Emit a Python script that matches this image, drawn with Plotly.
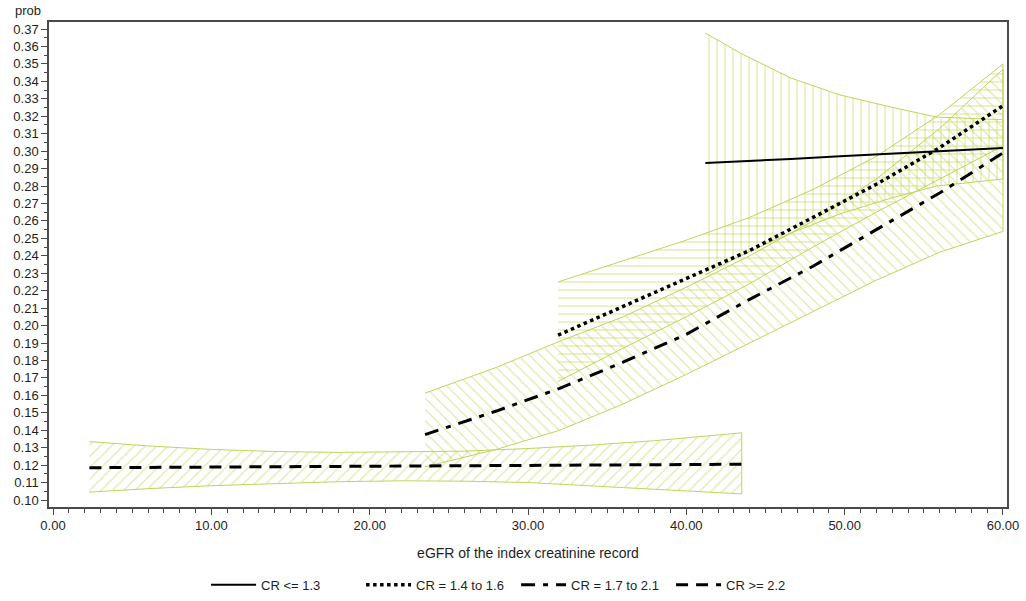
import plotly.graph_objects as go

# ---------------- data ----------------
# CR <= 1.3
x1 = [41.2, 43.4, 46.6, 49.7, 52.9, 55.8, 60.0]
y1 = [0.2932, 0.2940, 0.2955, 0.2970, 0.2985, 0.2998, 0.3018]
u1 = [0.3677, 0.3562, 0.3419, 0.3322, 0.3253, 0.3195, 0.3180]
l1 = [0.2290, 0.2400, 0.2530, 0.2640, 0.2730, 0.2800, 0.2840]

# CR = 1.4 to 1.6
x2 = [31.9, 36.0, 40.0, 44.0, 48.0, 52.0, 56.0, 60.0]
y2 = [0.1945, 0.2110, 0.2270, 0.2430, 0.2620, 0.2810, 0.3020, 0.3260]
u2 = [0.2250, 0.2370, 0.2490, 0.2620, 0.2780, 0.2970, 0.3210, 0.3500]
l2 = [0.1680, 0.1870, 0.2050, 0.2240, 0.2450, 0.2650, 0.2840, 0.3030]

# CR = 1.7 to 2.1
x3 = [23.5, 28.0, 32.0, 36.0, 40.0, 44.0, 48.0, 52.0, 56.0, 60.0]
y3 = [0.1375, 0.1510, 0.1640, 0.1790, 0.1950, 0.2150, 0.2340, 0.2550, 0.2760, 0.2990]
u3 = [0.1613, 0.1760, 0.1910, 0.2050, 0.2220, 0.2400, 0.2600, 0.2840, 0.3130, 0.3470]
l3 = [0.1190, 0.1290, 0.1400, 0.1550, 0.1720, 0.1900, 0.2080, 0.2260, 0.2420, 0.2540]

# CR >= 2.2
x4 = [2.3, 6.0, 10.0, 14.0, 18.0, 22.0, 26.0, 30.0, 34.0, 38.0, 43.5]
y4 = [0.1185, 0.1187, 0.1189, 0.1190, 0.1192, 0.1194, 0.1196, 0.1198, 0.1200, 0.1202, 0.1205]
u4 = [0.1335, 0.1310, 0.1290, 0.1278, 0.1273, 0.1275, 0.1280, 0.1295, 0.1315, 0.1340, 0.1385]
l4 = [0.1045, 0.1065, 0.1082, 0.1095, 0.1105, 0.1110, 0.1108, 0.1100, 0.1080, 0.1060, 0.1035]

names = ["CR <= 1.3", "CR = 1.4 to 1.6", "CR = 1.7 to 2.1", "CR >= 2.2"]
patterns = ["|", "-", "\\", "/"]
dashes = ["solid", "dot", "14px,8px,5px,8px", "12px,8px"]
widths = [2, 3.5, 3, 3]

series = [(x1, y1, u1, l1), (x2, y2, u2, l2), (x3, y3, u3, l3), (x4, y4, u4, l4)]

BAND = "#c2d35c"
FONT = "Liberation Sans, Arial, sans-serif"
TXT = "#1e1e1e"

fig = go.Figure()

# confidence bands (hatched polygons)
for (xs, ys, us, ls), pat in zip(series, patterns):
    fig.add_trace(go.Scatter(
        x=list(xs) + list(xs)[::-1],
        y=list(us) + list(ls)[::-1],
        mode="lines",
        fill="toself",
        fillcolor="rgba(0,0,0,0)",
        fillpattern=dict(shape=pat, fgcolor=BAND, bgcolor="rgba(0,0,0,0)",
                         size=8, solidity=0.16, fillmode="overlay"),
        line=dict(color=BAND, width=1),
        hoverinfo="skip",
        showlegend=False,
    ))

# predicted lines
for (xs, ys, us, ls), name, d, w in zip(series, names, dashes, widths):
    fig.add_trace(go.Scatter(
        x=xs, y=ys, mode="lines", name=name,
        line=dict(color="black", width=w, dash=d),
    ))

axis_common = dict(
    showgrid=False, zeroline=False, automargin=False,
    showline=True, linecolor="#4a4a4a", linewidth=1.5, mirror=True,
    ticks="outside", tickcolor="#4a4a4a", ticklen=6, tickwidth=1,
    tickfont=dict(family=FONT, size=13, color=TXT),
)

fig.update_xaxes(
    range=[-0.253, 60.253], tickmode="linear", tick0=0, dtick=10,
    tickformat=".2f",
    minor=dict(dtick=1, ticks="outside", ticklen=4, tickcolor="#4a4a4a"),
    title=dict(text="eGFR of the index creatinine record",
               font=dict(family=FONT, size=14, color=TXT), standoff=16),
    **axis_common,
)
fig.update_yaxes(
    range=[0.09599, 0.37401], tickmode="linear", tick0=0.10, dtick=0.01,
    tickformat=".2f",
    minor=dict(dtick=0.005, ticks="outside", ticklen=3, tickcolor="#4a4a4a"),
    **axis_common,
)

fig.add_annotation(
    text="prob", xref="paper", yref="paper", x=-0.0376, y=1.0247,
    xanchor="left", yanchor="middle", showarrow=False,
    font=dict(family=FONT, size=13, color=TXT),
)

fig.update_layout(
    width=1026, height=601,
    margin=dict(l=49, r=19, t=22, b=94, autoexpand=False),
    paper_bgcolor="white", plot_bgcolor="white",
    font=dict(family=FONT, size=13, color=TXT),
    legend=dict(orientation="h", xref="container", yref="container",
                x=0.503, xanchor="center", y=0.027, yanchor="middle",
                itemwidth=45, entrywidth=95, font=dict(family=FONT, size=13, color=TXT),
                bgcolor="rgba(0,0,0,0)", traceorder="normal"),
)

# place the figure at the page's top-left corner (no default body margin)
fig.write_html("out.html", config={"displayModeBar": False},
               post_script="document.body.style.margin='0px';")
